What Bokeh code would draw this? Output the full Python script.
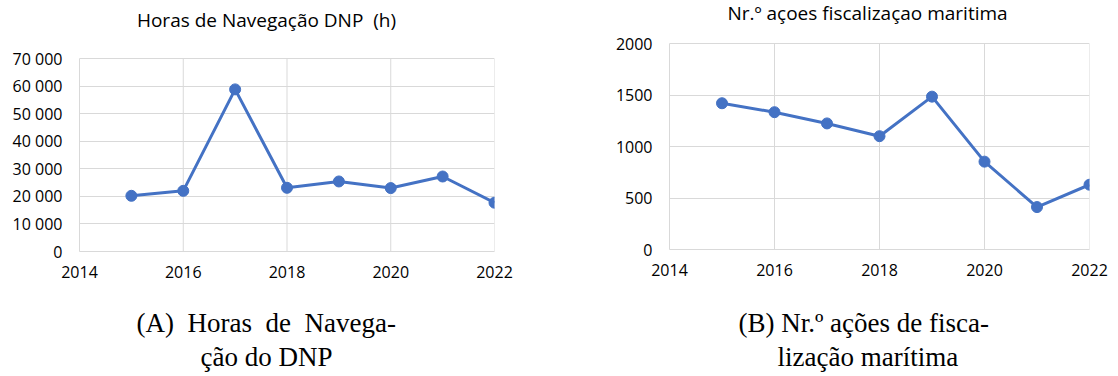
from bokeh.plotting import figure
from bokeh.layouts import row, column
from bokeh.models import Title, Label, FixedTicker, Range1d
from bokeh.embed import file_html
from bokeh.resources import INLINE

# Years shared by both series
years = [2015, 2016, 2017, 2018, 2019, 2020, 2021, 2022]

# Hours of navigation (DNP), in hours
horas = [20200, 22000, 58800, 23100, 25400, 23000, 27200, 17700]

# Number of maritime inspection actions
acoes = [1420, 1333, 1224, 1100, 1484, 853, 412, 629]

x_ticks = [2014, 2016, 2018, 2020, 2022]
horas_ticks = [0, 10000, 20000, 30000, 40000, 50000, 60000, 70000]
horas_tick_labels = ["0", "10 000", "20 000", "30 000", "40 000", "50 000", "60 000", "70 000"]
acoes_ticks = [0, 500, 1000, 1500, 2000]

title_a = "Horas de Navegação DNP\u00a0 (h)"
title_b = "Nr.º açoes fiscalizaçao maritima"
# justified first line: wider word spaces
caption_a = ["(A)\u2002Horas\u2002de\u2002Navega-", "ção do DNP"]
caption_b = ["(B) Nr.º ações de fisca-", "lização marítima"]

LINE = "#4472C4"
GRID = "#d9d9d9"
SANS = "Open Sans"
SERIF = "Liberation Serif"
H = 376


def make_chart(width, ys, yticks, ymax, frame, title, title_px, caption, caption_offsets,
               spacer, labels=None):
    # frame = (left, right, top of the value area, bottom) in canvas pixels;
    # the frame itself runs up to the canvas top so the heading can sit inside it
    left, right, top, bottom = frame
    plot_h = bottom
    y_end = ymax * plot_h / (plot_h - top)
    p = figure(width=width, height=H, output_backend="svg", toolbar_location=None,
               title_location=None,
               x_range=Range1d(2014, 2022), y_range=Range1d(0, y_end),
               min_border_left=left, min_border_right=width - right,
               min_border_top=0, min_border_bottom=H - bottom)
    p.background_fill_color = "white"
    p.border_fill_color = "white"
    p.outline_line_color = None

    p.xaxis.ticker = FixedTicker(ticks=x_ticks)
    p.yaxis.ticker = FixedTicker(ticks=yticks)
    p.yaxis.bounds = (0, ymax)
    if labels is not None:
        p.yaxis.major_label_overrides = {t: s for t, s in zip(yticks, labels)}
    for ax in (p.xaxis[0], p.yaxis[0]):
        ax.axis_line_color = GRID
        ax.major_tick_line_color = None
        ax.minor_tick_line_color = None
        ax.major_tick_out = 0
        ax.major_tick_in = 0
        ax.major_label_text_font = SANS
        ax.major_label_text_font_size = "16px"
        ax.major_label_text_color = "black"
    p.xaxis.major_label_standoff = 14
    p.yaxis.major_label_standoff = 17

    p.xgrid.visible = False
    p.ygrid.ticker = FixedTicker(ticks=yticks)
    p.ygrid.grid_line_color = GRID
    p.ygrid.grid_line_width = 1
    # vertical grid lines only across the value area
    p.segment(x0=x_ticks, y0=[0] * len(x_ticks), x1=x_ticks, y1=[ymax] * len(x_ticks),
              line_color=GRID, line_width=1)

    p.line(years, ys, line_color=LINE, line_width=3)
    p.scatter(years, ys, size=11, fill_color=LINE, line_color=LINE)

    # heading, placed from canvas pixels through the plot's scales
    tx, ty = title_px
    fx = 2014 + (tx - left) / (right - left) * 8
    fy = y_end * (plot_h - ty) / plot_h
    p.add_layout(Label(x=fx, y=fy, text=title, text_font=SANS, text_font_size="19px",
                       text_color="black", text_align="center",
                       text_baseline="alphabetic"))

    # gap between the year labels and the caption
    p.add_layout(Title(text=" ", text_font_size="10px", standoff=spacer), "below")
    for line, off in zip(caption, caption_offsets):
        p.add_layout(Title(text=line, text_font=SERIF, text_font_size="27px",
                           text_font_style="normal", text_color="black",
                           align="left", offset=off, standoff=2), "below")
    return p


p1 = make_chart(559, horas, horas_ticks, 70000, (79, 494, 58, 251),
                title_a, (266, 19), caption_a, (57, 121), 11, labels=horas_tick_labels)
p2 = make_chart(559, acoes, acoes_ticks, 2000, (110, 530, 43, 249),
                title_b, (308, 12), caption_b, (69, 108), 13)

layout = row(column(p1), column(p2))
open("out.html", "w").write(file_html(layout, INLINE))
